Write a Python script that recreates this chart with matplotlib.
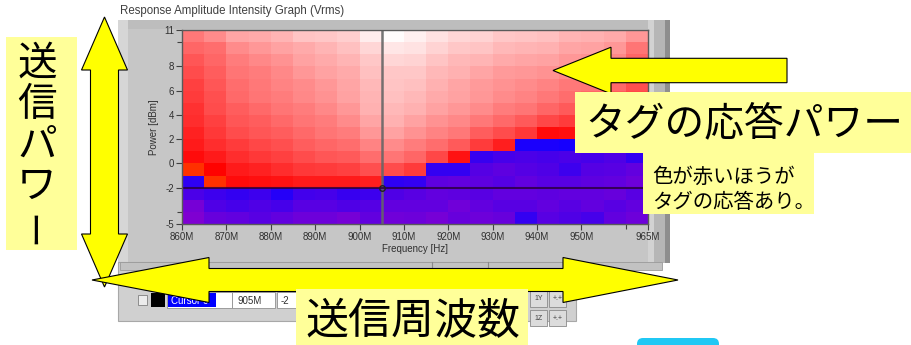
import matplotlib
matplotlib.use("Agg")
import matplotlib.pyplot as plt
import numpy as np
from matplotlib.colors import LinearSegmentedColormap, Normalize
from matplotlib.patches import Polygon, Rectangle, FancyBboxPatch

# sweep grid: cell edges of the intensity graph
freq_edges = [860, 865, 870, 875, 880, 885, 890, 895, 900, 905, 910,
              915, 920, 925, 930, 935, 940, 945, 950, 955, 960, 965]   # MHz
power_edges = [-5, -4, -3, -2, -1, 0, 1, 2, 3, 4, 5, 6, 7, 8, 9, 10, 11]  # dBm

# response amplitude (0-100 scale), one row per power step, top row = 10 dBm
response = [
    [64, 69, 76, 77, 80, 84, 85, 87, 95, 99, 96, 92, 89, 88, 85, 84, 83, 80, 79, 77, 72],
    [59, 61, 69, 72, 75, 77, 80, 83, 89, 93, 92, 88, 85, 84, 81, 80, 79, 76, 75, 72, 63],
    [55, 59, 65, 68, 71, 75, 77, 80, 85, 89, 88, 84, 81, 80, 77, 76, 75, 72, 71, 68, 59],
    [52, 57, 63, 65, 68, 72, 75, 77, 83, 85, 85, 81, 79, 76, 73, 72, 71, 68, 67, 64, 56],
    [49, 55, 61, 64, 67, 69, 72, 76, 81, 84, 83, 79, 76, 73, 71, 69, 67, 64, 63, 60, 53],
    [48, 53, 60, 63, 65, 68, 71, 75, 80, 83, 81, 77, 75, 72, 69, 67, 64, 61, 59, 56, 51],
    [45, 52, 57, 60, 63, 65, 68, 72, 79, 81, 79, 75, 72, 69, 65, 63, 59, 56, 55, 52, 47],
    [44, 49, 55, 57, 60, 63, 65, 69, 76, 79, 75, 71, 68, 64, 60, 56, 51, 48, 47, 45, 43],
    [41, 47, 52, 55, 57, 60, 63, 65, 72, 75, 71, 67, 64, 57, 52, 47, 35, 36, 37, 37, 36],
    [39, 44, 48, 51, 53, 57, 59, 61, 67, 69, 65, 61, 56, 48, 40, 24, 24, 25, 24, 24, 24],
    [35, 39, 44, 47, 49, 52, 55, 56, 61, 63, 59, 51, 37, 18, 15, 14, 15, 14, 15, 13, 19],
    [27, 32, 39, 41, 44, 47, 48, 49, 53, 52, 48, 19, 19, 12, 10, 12, 13, 17, 12, 11, 9],
    [20, 27, 35, 36, 37, 39, 39, 39, 40, 20, 19, 10, 9, 10, 12, 9, 11, 11, 10, 9, 7],
    [14, 17, 19, 17, 22, 16, 15, 18, 17, 13, 11, 9, 10, 11, 9, 9, 10, 9, 9, 8, 11],
    [5, 13, 15, 13, 15, 11, 11, 13, 12, 9, 9, 9, 6, 9, 11, 11, 9, 11, 9, 11, 9],
    [3, 8, 9, 11, 9, 7, 7, 5, 9, 6, 7, 5, 8, 7, 8, 19, 11, 13, 15, 9, 7],
]

freq_ticks = [860, 870, 880, 890, 900, 910, 920, 930, 940, 950, 965]
freq_minor = [960]
power_ticks = [11, 8, 6, 4, 2, 0, -2, -5]
power_minor = [10, -4]

cursor_name = "Cursor 0"
cursor_freq = 905
cursor_power = -2

JP = ["Noto Sans CJK JP", "DejaVu Sans"]
UI = "Liberation Sans"
YELLOW = "#ffff00"
NOTE = "#ffff99"

# noise floor purple -> blue, tag response orange/red -> white
cmap = LinearSegmentedColormap.from_list(
    "intensity",
    [(0.0, "#8c00cd"), (0.255, "#1400ff"), (0.26, "#ff3c00"),
     (0.32, "#ff0000"), (1.0, "#ffffff")])
norm = Normalize(vmin=0, vmax=100)

W, H = 911, 345
fig = plt.figure(figsize=(W / 100, H / 100), dpi=100)
fig.patch.set_facecolor("white")

# ---- window background (pixel coordinates) ----
bg = fig.add_axes([0, 0, 1, 1], zorder=0)
bg.set_xlim(0, W)
bg.set_ylim(H, 0)
bg.axis("off")

bg.text(120, 11, "Response Amplitude Intensity Graph (Vrms)", fontsize=8.3,
        family=UI, color="#404040", ha="left", va="center")
bg.add_patch(Rectangle((118, 20), 552, 243, fc="#c6c6c6", ec="none"))
bg.add_patch(Rectangle((118, 20), 552, 9, fc="#bdbdbd", ec="none"))
bg.add_patch(Rectangle((118, 20), 10, 243, fc="#d6d6d6", ec="none"))
bg.add_patch(Rectangle((650, 20), 18, 243, fc="#b6b6b6", ec="none"))
bg.add_patch(Rectangle((648, 20), 6, 243, fc="#d2d2d2", ec="none"))
bg.add_patch(Rectangle((665, 20), 5, 243, fc="#8e8e8e", ec="none"))

# cursor legend panel
bg.add_patch(Rectangle((118, 262), 458, 59, fc="#d0d0d0", ec="#a8a8a8", lw=0.8))
bg.add_patch(Rectangle((120, 262), 542, 8, fc="#c2c2c2", ec="#9a9a9a", lw=0.6))
for xd in (432, 488):
    bg.plot([xd, xd], [262, 270], color="#8a8a8a", lw=0.8)
bg.add_patch(Rectangle((138, 295), 9, 10, fc="#ececec", ec="#808080", lw=0.6))
bg.add_patch(Rectangle((151, 293), 14, 14, fc="black", ec="none"))
bg.add_patch(Rectangle((167, 292), 65, 16, fc="white", ec="#909090", lw=0.6))
bg.add_patch(Rectangle((168, 293), 48, 14, fc="#0000ff", ec="none"))
bg.text(171, 300.5, cursor_name, fontsize=7, family=UI, color="white", va="center")
bg.add_patch(Rectangle((232, 292), 43, 16, fc="white", ec="#909090", lw=0.6))
bg.text(238, 300.5, f"{cursor_freq}M", fontsize=7, family=UI, color="#303030", va="center")
bg.add_patch(Rectangle((277, 292), 40, 16, fc="white", ec="#909090", lw=0.6))
bg.text(281, 300.5, f"{cursor_power}", fontsize=7, family=UI, color="#303030", va="center")
for bx, by, lab in [(530, 291, "1Y"), (549, 291, "+.+"), (530, 310, "1Z"), (549, 310, "+.+")]:
    bg.add_patch(Rectangle((bx, by), 17, 16, fc="#dcdcdc", ec="#8a8a8a", lw=0.6))
    bg.text(bx + 8.5, by + 8, lab, fontsize=5, family=UI, color="#404040",
            ha="center", va="center")

bg.add_patch(FancyBboxPatch((637, 338), 82, 14, boxstyle="round,pad=0,rounding_size=6",
                            fc="#20c8f4", ec="none"))

# ---- intensity graph ----
ax = fig.add_axes([182 / W, 1 - 224 / H, (648 - 182) / W, (224 - 30) / H], zorder=1)
grid = np.array(response)[::-1]
ax.pcolormesh(freq_edges, power_edges, grid, cmap=cmap, norm=norm, shading="flat")
ax.set_xlim(freq_edges[0], freq_edges[-1])
ax.set_ylim(power_edges[0], power_edges[-1])

ax.axvline(cursor_freq, color="#666666", lw=1.8, alpha=0.9)
ax.axhline(cursor_power, color="#2a0038", lw=1.5, alpha=0.8)
ax.plot(cursor_freq, cursor_power, "o", ms=4, mfc="none", mec="#202020", mew=1)

ax.set_xticks(freq_ticks)
ax.set_xticklabels([f"{f}M" for f in freq_ticks])
ax.set_xticks(freq_minor, minor=True)
ax.set_yticks(power_ticks)
ax.set_yticklabels([str(p) for p in power_ticks])
ax.set_yticks(power_minor, minor=True)
ax.tick_params(which="both", direction="out", color="#404040", width=0.8,
               labelsize=7, labelcolor="#303030", pad=1.5)
ax.tick_params(which="major", length=4)
ax.tick_params(which="minor", length=3.5)
for lab in ax.get_xticklabels() + ax.get_yticklabels():
    lab.set_family(UI)
ax.set_xlabel("Frequency [Hz]", fontsize=7, family=UI, color="#303030", labelpad=2)
ax.set_ylabel("Power [dBm]", fontsize=7, family=UI, color="#303030", labelpad=4)
for sp in ax.spines.values():
    sp.set_color("#5a5a5a")
    sp.set_linewidth(1)

# ---- annotations ----
ov = fig.add_axes([0, 0, 1, 1], zorder=3)
ov.set_xlim(0, W)
ov.set_ylim(H, 0)
ov.axis("off")
ov.patch.set_alpha(0)


def double_arrow_v(cx, top, bot, head_len, head_w, shaft_w):
    return [(cx, top), (cx + head_w, top + head_len), (cx + shaft_w, top + head_len),
            (cx + shaft_w, bot - head_len), (cx + head_w, bot - head_len), (cx, bot),
            (cx - head_w, bot - head_len), (cx - shaft_w, bot - head_len),
            (cx - shaft_w, top + head_len), (cx - head_w, top + head_len)]


def double_arrow_h(cy, left, right, head_l, head_r, head_w, shaft_w):
    return [(left, cy), (left + head_l, cy - head_w), (left + head_l, cy - shaft_w),
            (right - head_r, cy - shaft_w), (right - head_r, cy - head_w), (right, cy),
            (right - head_r, cy + head_w), (right - head_r, cy + shaft_w),
            (left + head_l, cy + shaft_w), (left + head_l, cy + head_w)]


arrow_kw = dict(closed=True, fc=YELLOW, ec="black", lw=0.8, joinstyle="miter")
ov.add_patch(Polygon(double_arrow_v(104.5, 17, 287, 53, 23, 14), **arrow_kw))
ov.add_patch(Polygon(double_arrow_h(280, 92, 678, 117, 115, 22.5, 11.5), **arrow_kw))
ov.add_patch(Polygon([(553, 70.5), (611, 47.2), (611, 58.3), (787, 58.3),
                      (787, 82.7), (611, 82.7), (611, 93.8)], **arrow_kw))

# vertical label: transmit power
ov.add_patch(Rectangle((6, 37), 71, 213, fc=NOTE, ec="none"))
for ch, yc in zip(["送", "信", "パ", "ワ"], [64, 105, 146, 187]):
    ov.text(37, yc, ch, fontsize=28.5, family=JP, ha="center", va="center")
ov.text(37, 226, "ー", fontsize=26, family=JP, ha="center", va="center",
        rotation=90, rotation_mode="anchor")

# tag response labels
ov.add_patch(Rectangle((575, 92), 336, 61, fc=NOTE, ec="none"))
ov.text(585, 124, "タグの応答パワー", fontsize=28.6, family=JP, ha="left", va="center")
ov.add_patch(Rectangle((643, 152.7), 171, 61, fc=NOTE, ec="none"))
ov.text(652, 177, "色が赤いほうが", fontsize=14.7, family=JP, ha="left", va="center")
ov.text(652, 202, "タグの応答あり。", fontsize=14.7, family=JP, ha="left", va="center")

# transmit frequency label
ov.add_patch(Rectangle((296, 288.5), 232, 60, fc=NOTE, ec="none"))
ov.text(305, 322, "送信周波数", fontsize=31, family=JP, ha="left", va="center")

fig.savefig("out.png", dpi=100, facecolor="white")
